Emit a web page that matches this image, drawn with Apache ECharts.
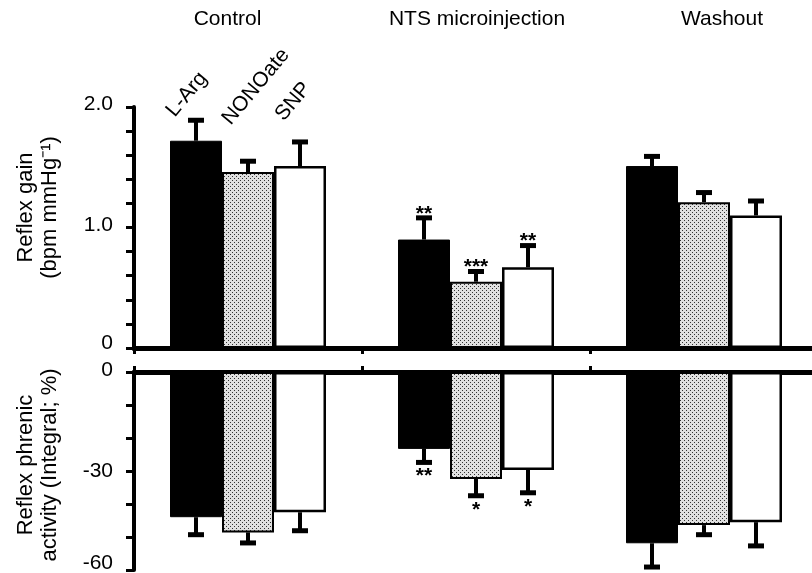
<!DOCTYPE html>
<html>
<head>
<meta charset="utf-8">
<script src="https://cdn.jsdelivr.net/npm/echarts@6/dist/echarts.min.js"></script>
<style>
html,body{margin:0;padding:0;background:#fff;}
#chart{width:812px;height:573px;}
</style>
</head>
<body>
<div id="chart"></div>
<script>
// ---- data ----
const categories = ['Control', 'NTS microinjection', 'Washout'];
const seriesNames = ['L-Arg', 'NONOate', 'SNP'];

// Reflex gain (bpm mmHg^-1)
const gainLArg = [1.72, 0.90, 1.51];
const gainLArgErr = [0.17, 0.18, 0.08];
const gainNONOate = [1.46, 0.55, 1.21];
const gainNONOateErr = [0.09, 0.085, 0.08];
const gainSNP = [1.51, 0.67, 1.10];
const gainSNPErr = [0.20, 0.18, 0.12];
const gainSigLArg = ['', '**', ''];
const gainSigNONOate = ['', '***', ''];
const gainSigSNP = ['', '**', ''];

// Reflex phrenic activity (Integral; %)
const phrLArg = [-44.0, -23.3, -51.9];
const phrLArgErr = [5.3, 4.1, 7.2];
const phrNONOate = [-48.6, -32.4, -46.4];
const phrNONOateErr = [3.2, 5.1, 2.9];
const phrSNP = [-42.5, -29.7, -45.5];
const phrSNPErr = [5.6, 6.9, 7.2];
const phrSigLArg = ['', '**', ''];
const phrSigNONOate = ['', '*', ''];
const phrSigSNP = ['', '*', ''];

const gainTickLabels = {'0': '0', '1': '1.0', '2': '2.0'};
const phrTickLabels = {'0': '0', '-30': '-30', '-60': '-60'};

// ---- style ----
const FONT = '"Liberation Sans", Arial, Helvetica, sans-serif';
const BAR_W = 52;

const pat = document.createElement('canvas');
pat.width = 4; pat.height = 4;
const pc = pat.getContext('2d');
pc.fillStyle = '#e0e0e0'; pc.fillRect(0, 0, 4, 4);
pc.fillStyle = '#333'; pc.fillRect(0, 0, 1, 1); pc.fillRect(2, 2, 1, 1);
const stipple = {image: pat, repeat: 'repeat'};

const barStyles = [
  {color: '#000', borderColor: '#000', borderWidth: 1},
  {color: stipple, borderColor: '#000', borderWidth: 2},
  {color: '#fff', borderColor: '#000', borderWidth: 2.5}
];

function bar(name, data, idx, gi) {
  return {
    name: name, type: 'bar', xAxisIndex: gi === 0 ? 0 : 2, yAxisIndex: gi,
    data: data, barWidth: BAR_W, barGap: '0%', itemStyle: barStyles[idx],
    emphasis: {disabled: true}, animation: false, z: 2
  };
}

function errSeries(values, errs, sig, idx, gi) {
  const offset = (idx - 1) * BAR_W;
  return {
    type: 'custom', xAxisIndex: gi === 0 ? 0 : 2, yAxisIndex: gi, animation: false, z: 3,
    data: values.map((v, i) => [i, v, errs[i]]),
    renderItem: function (params, api) {
      const cat = api.value(0), v = api.value(1), e = api.value(2);
      const dir = v >= 0 ? 1 : -1;
      const p0 = api.coord([cat, v]);
      const p1 = api.coord([cat, v + dir * e]);
      const x = p0[0] + offset;
      const y0 = Math.min(p0[1], p1[1]), y1 = Math.max(p0[1], p1[1]);
      const children = [
        {type: 'rect', shape: {x: x - 2, y: y0, width: 4, height: y1 - y0}, style: {fill: '#000'}},
        {type: 'rect', shape: {x: x - 8, y: p1[1] - 2.5, width: 16, height: 5}, style: {fill: '#000'}}
      ];
      const s = sig[params.dataIndex];
      if (s) {
        children.push({
          type: 'text', x: x, y: dir > 0 ? p1[1] - 4 : p1[1] + 14,
          style: {text: s, fill: '#000', font: 'bold 21px ' + FONT,
                  align: 'center', verticalAlign: 'middle',
                  textAlign: 'center', textVerticalAlign: 'middle'}
        });
      }
      return {type: 'group', children: children};
    }
  };
}

function tickRich(shiftMap) {
  const r = {};
  Object.keys(shiftMap).forEach(function (k) {
    r[k] = {fontSize: 21, fontFamily: FONT, color: '#000', padding: [0, 0, shiftMap[k] * 2, 0]};
  });
  return r;
}

function rotLabel(text, x, y) {
  return {type: 'text', x: x, y: y, rotation: 50 * Math.PI / 180,
    style: {text: text, fill: '#000', font: '21px ' + FONT, align: 'left', verticalAlign: 'bottom',
            textAlign: 'left', textVerticalAlign: 'bottom'}};
}

const option = {
  backgroundColor: '#fff',
  animation: false,
  grid: [
    {left: 134, top: 107, width: 684, height: 241, outerBoundsMode: 'none', containLabel: false},
    {left: 134, top: 372, width: 684, height: 198, outerBoundsMode: 'none', containLabel: false}
  ],
  xAxis: [
    {type: 'category', gridIndex: 0, data: categories, position: 'bottom',
     axisLine: {lineStyle: {color: '#000', width: 5}},
     axisTick: {show: true, length: 6, lineStyle: {color: '#000', width: 3}},
     axisLabel: {show: false}, splitLine: {show: false}},
    {type: 'category', gridIndex: 0, data: categories, position: 'top',
     axisLine: {show: false}, axisTick: {show: false}, splitLine: {show: false},
     axisLabel: {show: true, interval: 0, margin: 77, color: '#000', fontSize: 21, fontFamily: FONT,
       formatter: function (v, i) { return '{c' + i + '|' + v + '}'; },
       rich: {
         c0: {fontSize: 21, fontFamily: FONT, color: '#000', padding: [0, 41, 0, 0]},
         c1: {fontSize: 21, fontFamily: FONT, color: '#000', padding: [0, 0, 0, 2]},
         c2: {fontSize: 21, fontFamily: FONT, color: '#000', padding: [0, 0, 0, 36]}
       }}},
    {type: 'category', gridIndex: 1, data: categories, position: 'top',
     axisLine: {lineStyle: {color: '#000', width: 5}},
     axisTick: {show: true, length: 6, lineStyle: {color: '#000', width: 3}},
     axisLabel: {show: false}, splitLine: {show: false}}
  ],
  yAxis: [
    {type: 'value', gridIndex: 0, min: 0, max: 2, interval: 0.2,
     axisLine: {show: true, lineStyle: {color: '#000', width: 4}},
     axisTick: {show: true, length: 8, lineStyle: {color: '#000', width: 3}},
     splitLine: {show: false},
     axisLabel: {margin: 21, color: '#000', fontSize: 21, fontFamily: FONT,
       formatter: function (v) {
         const r = Math.round(v * 10) / 10;
         if (Math.abs(r - Math.round(r)) > 1e-9) return '';
         const k = String(Math.round(r));
         return gainTickLabels[k] !== undefined ? '{g' + k + '|' + gainTickLabels[k] + '}' : '';
       },
       rich: tickRich({g0: 5, g1: 2, g2: 3})},
     name: 'Reflex gain\n(bpm mmHg\u207B\u00B9)', nameLocation: 'middle', nameRotate: 90, nameGap: 72,
     nameTextStyle: {color: '#000', fontSize: 22, fontFamily: FONT, lineHeight: 24, padding: [0, 0, 0, 40]}},
    {type: 'value', gridIndex: 1, min: -60, max: 0, interval: 10,
     axisLine: {show: true, lineStyle: {color: '#000', width: 4}},
     axisTick: {show: true, length: 8, lineStyle: {color: '#000', width: 3}},
     splitLine: {show: false},
     axisLabel: {margin: 21, color: '#000', fontSize: 21, fontFamily: FONT,
       formatter: function (v) {
         const k = String(Math.round(v));
         return phrTickLabels[k] !== undefined ? '{p' + (-Math.round(v)) + '|' + phrTickLabels[k] + '}' : '';
       },
       rich: tickRich({p0: 2, p30: 0, p60: 7})},
     name: 'Reflex phrenic\nactivity (Integral; %)', nameLocation: 'middle', nameRotate: 90, nameGap: 72,
     nameTextStyle: {color: '#000', fontSize: 22, fontFamily: FONT, lineHeight: 24, padding: [0, 0, 0, 12]}}
  ],
  series: [
    bar(seriesNames[0], gainLArg, 0, 0),
    bar(seriesNames[1], gainNONOate, 1, 0),
    bar(seriesNames[2], gainSNP, 2, 0),
    errSeries(gainLArg, gainLArgErr, gainSigLArg, 0, 0),
    errSeries(gainNONOate, gainNONOateErr, gainSigNONOate, 1, 0),
    errSeries(gainSNP, gainSNPErr, gainSigSNP, 2, 0),
    bar(seriesNames[0], phrLArg, 0, 1),
    bar(seriesNames[1], phrNONOate, 1, 1),
    bar(seriesNames[2], phrSNP, 2, 1),
    errSeries(phrLArg, phrLArgErr, phrSigLArg, 0, 1),
    errSeries(phrNONOate, phrNONOateErr, phrSigNONOate, 1, 1),
    errSeries(phrSNP, phrSNPErr, phrSigSNP, 2, 1)
  ],
  graphic: [
    rotLabel(seriesNames[0], 178.4, 120.8),
    rotLabel(seriesNames[1], 234.4, 128.8),
    rotLabel(seriesNames[2], 287.4, 124.8)
  ]
};

const chart = echarts.init(document.getElementById('chart'), null, {renderer: 'canvas'});
chart.setOption(option);
</script>
</body>
</html>
